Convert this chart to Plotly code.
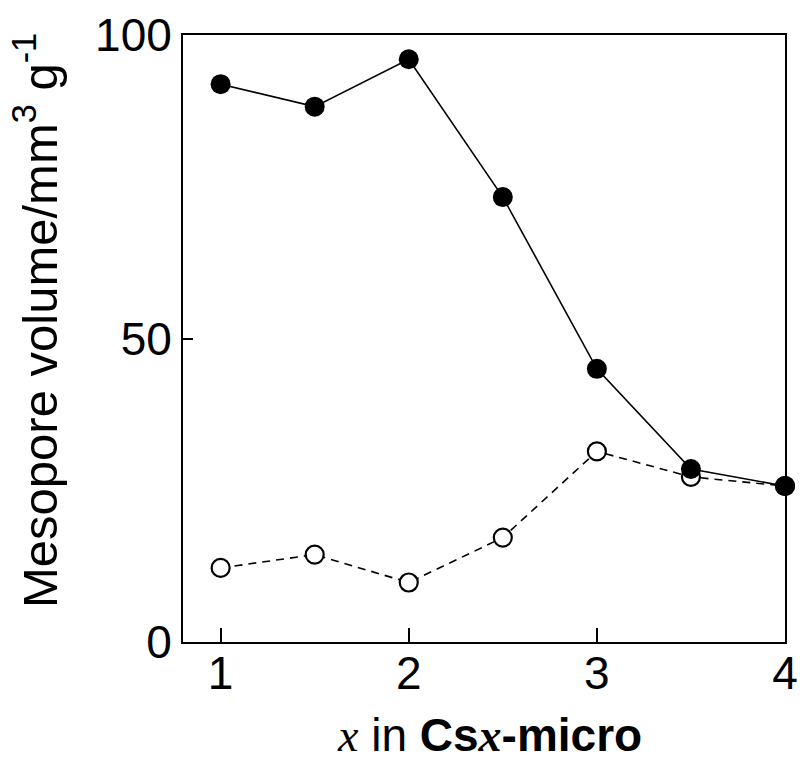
import plotly.graph_objects as go

# Cs loading x in the Csx-micro samples
x_values = [1, 1.5, 2, 2.5, 3, 3.5, 4]
# Mesopore volume (mm3 g-1), filled symbols
filled_volume = [91.9, 88.2, 96.0, 73.3, 45.0, 28.5, 25.7]
# Mesopore volume (mm3 g-1), open symbols
open_volume = [12.2, 14.4, 9.8, 17.2, 31.4, 27.2, 25.7]

x_ticks = [1, 2, 3, 4]
y_ticks = [0, 50, 100]

fig = go.Figure()

fig.add_trace(go.Scatter(
    x=x_values, y=open_volume, mode="lines+markers",
    line=dict(color="black", width=1.6, dash="8px,6px"),
    marker=dict(symbol="circle", size=18, color="white",
                line=dict(color="black", width=2.2)),
    cliponaxis=False, showlegend=False,
))
fig.add_trace(go.Scatter(
    x=x_values, y=filled_volume, mode="lines+markers",
    line=dict(color="black", width=1.6),
    marker=dict(symbol="circle", size=20, color="black",
                line=dict(color="black", width=0)),
    cliponaxis=False, showlegend=False,
))

axis_common = dict(
    showline=True, linecolor="black", linewidth=2, mirror=True,
    showgrid=False, zeroline=False, ticks="inside", tickcolor="black",
    tickwidth=2, automargin=False,
    tickfont=dict(family="Liberation Sans", size=46, color="black"),
)

fig.update_xaxes(range=[0.8, 4], tickvals=x_ticks, ticklen=14,
                 ticklabelstandoff=-10, **axis_common)
fig.update_yaxes(range=[0, 100], tickvals=y_ticks, ticklen=10, **axis_common)

fig.add_annotation(
    xref="paper", yref="paper", x=-0.243, y=0.530,
    xanchor="center", yanchor="middle", textangle=-90, showarrow=False,
    text="Mesopore volume/mm<sup>3</sup> g<sup>-1</sup>",
    font=dict(family="Liberation Sans", size=49, color="black"),
)
fig.add_annotation(
    xref="paper", yref="paper", x=0.509, y=-0.153,
    xanchor="center", yanchor="middle", showarrow=False,
    text=("<span style=\"font-family:'Liberation Serif';font-style:italic\">x</span>"
          " in <b>Cs<span style=\"font-family:'Liberation Serif';font-style:italic\">x</span>-micro</b>"),
    font=dict(family="Liberation Sans", size=46, color="black"),
)

fig.update_layout(
    width=800, height=765,
    margin=dict(l=183, r=15, t=35, b=123),
    paper_bgcolor="white", plot_bgcolor="white",
    font=dict(family="Liberation Sans", color="black"),
)

fig.write_html("out.html")
